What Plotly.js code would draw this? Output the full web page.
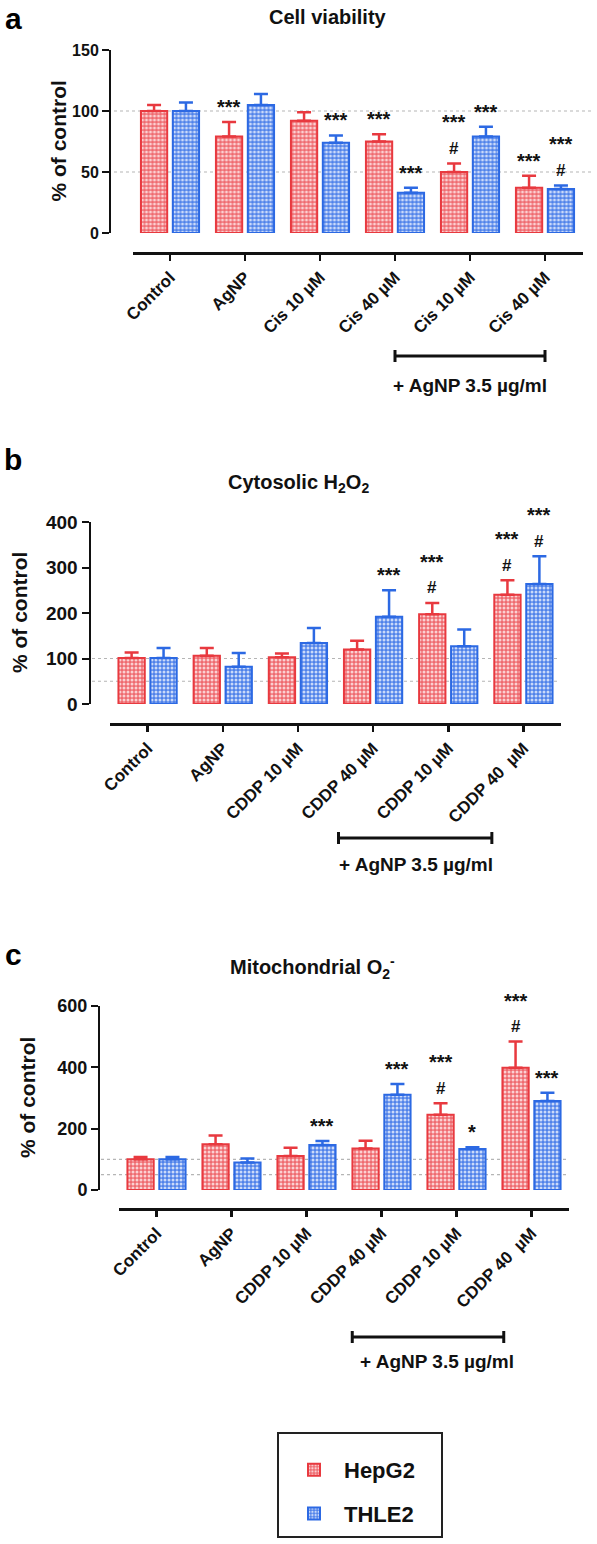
<!DOCTYPE html>
<html>
<head>
<meta charset="utf-8">
<script src="https://cdn.plot.ly/plotly-3.0.1.min.js"></script>
<style>html,body{margin:0;padding:0;background:#fff;}#chart{width:597px;height:1544px;}</style>
</head>
<body>
<div id="chart"></div>
<script>
// ---------- DATA ----------
const catsA = ['Control', 'AgNP', 'Cis 10 µM', 'Cis 40 µM', 'Cis 10 µM', 'Cis 40 µM'];
const catsBC = ['Control', 'AgNP', 'CDDP 10 µM', 'CDDP 40 µM', 'CDDP 10 µM', 'CDDP 40  µM'];
const seriesNames = ['HepG2', 'THLE2'];

// Panel a: Cell viability (% of control)
const hepA = [100, 79, 92, 75, 50, 37];
const hepAerr = [5, 12, 7, 6, 7, 10];
const thleA = [100, 105, 74, 33, 79, 36];
const thleAerr = [7, 9, 6, 4, 8, 3];
const hepAstar = ['', '***', '', '***', '***', '***'];
const hepAhash = ['', '', '', '', '#', ''];
const thleAstar = ['', '', '***', '***', '***', '***'];
const thleAhash = ['', '', '', '', '', '#'];

// Panel b: Cytosolic H2O2
const hepB = [101, 106, 103, 120, 197, 240];
const hepBerr = [12, 17, 8, 19, 25, 32];
const thleB = [101, 82, 134, 192, 127, 264];
const thleBerr = [22, 30, 33, 58, 37, 61];
const hepBstar = ['', '', '', '', '***', '***'];
const hepBhash = ['', '', '', '', '#', '#'];
const thleBstar = ['', '', '', '***', '', '***'];
const thleBhash = ['', '', '', '', '', '#'];

// Panel c: Mitochondrial O2-
const hepC = [100, 149, 111, 135, 245, 399];
const hepCerr = [8, 29, 27, 26, 38, 85];
const thleC = [100, 90, 147, 311, 134, 290];
const thleCerr = [8, 13, 13, 35, 5, 27];
const hepCstar = ['', '', '', '', '***', '***'];
const hepChash = ['', '', '', '', '#', '#'];
const thleCstar = ['', '', '***', '***', '*', '***'];
const thleChash = ['', '', '', '', '', ''];

const yTicksA = [0, 50, 100, 150];
const yTicksB = [0, 100, 200, 300, 400];
const yTicksC = [0, 200, 400, 600];
const refLines = [50, 100];

// ---------- STYLE / GEOMETRY ----------
const W = 597, H = 1544;
const px = v => v / W;
const py = v => 1 - v / H;
const FONT = 'Liberation Sans, Arial, Helvetica, sans-serif';
const RED = '#e8393f', BLUE = '#2c69e3';
const RED_BG = '#ef6a6f', RED_FG = '#fbd0d2';
const BLUE_BG = '#4f82ea', BLUE_FG = '#cbdaf9';
const BAR_W = 0.35, BAR_GAP = 0.075;
const offs = [-(BAR_W + BAR_GAP / 2), BAR_GAP / 2];

const panels = [
  {key: '', cats: catsA, ser: [[hepA, hepAerr, hepAstar, hepAhash], [thleA, thleAerr, thleAstar, thleAhash]],
   yTicks: yTicksA, ymax: 150, yAxisX: 110, yTop: 50, yBot: 233, xAxisY: 253, xL: 132.5, xR: 582.5,
   refX0: 114, refX1: 594, title: '<b>Cell viability</b>', titleX: 328, titleY: 17, letter: 'a', letterY: 0,
   yTitleX: 58, br: [3, 5], brY: 356, brTextX: 4, brTextY: 385, tickSize: 16},
  {key: '2', cats: catsBC, ser: [[hepB, hepBerr, hepBstar, hepBhash], [thleB, thleBerr, thleBstar, thleBhash]],
   yTicks: yTicksB, ymax: 400, yAxisX: 89.5, yTop: 522, yBot: 704, xAxisY: 724, xL: 110, xR: 561,
   refX0: 92, refX1: 560, title: '<b>Cytosolic H<sub>2</sub>O<sub>2</sub></b>', titleX: 298, titleY: 483, letter: 'b', letterY: 441,
   yTitleX: 19, br: [2.54, 4.58], brY: 838, brTextX: 3.57, brTextY: 864, tickSize: 19},
  {key: '3', cats: catsBC, ser: [[hepC, hepCerr, hepCstar, hepChash], [thleC, thleCerr, thleCstar, thleChash]],
   yTicks: yTicksC, ymax: 600, yAxisX: 99, yTop: 1006, yBot: 1190, xAxisY: 1209, xL: 119, xR: 569,
   refX0: 101, refX1: 567, title: '<b>Mitochondrial O<sub>2</sub><sup>-</sup></b>', titleX: 312, titleY: 967, letter: 'c', letterY: 936,
   yTitleX: 27, br: [2.61, 4.63], brY: 1337, brTextX: 3.74, brTextY: 1361, tickSize: 18}
];

const traces = [];
const annotations = [];
const shapes = [];
const layout = {
  width: W, height: H, margin: {l: 0, r: 0, t: 0, b: 0}, autosize: false,
  paper_bgcolor: '#fff', plot_bgcolor: 'rgba(0,0,0,0)',
  font: {family: FONT, color: '#111'},
  barmode: 'overlay', showlegend: true,
  legend: {x: px(284), y: py(1449), xanchor: 'left', yanchor: 'top', bgcolor: 'rgba(0,0,0,0)',
           borderwidth: 0, font: {family: FONT, size: 22, weight: 'bold', color: '#111'},
           tracegroupgap: 12, traceorder: 'grouped', itemwidth: 50},
  annotations: annotations, shapes: shapes
};

// legend frame
shapes.push({type: 'rect', xref: 'paper', yref: 'paper', x0: px(278), x1: px(442), y0: py(1433), y1: py(1537),
  line: {color: '#222', width: 2}, fillcolor: 'rgba(0,0,0,0)'});

panels.forEach((p, pi) => {
  const xa = 'x' + p.key, ya = 'y' + p.key;
  const xName = 'xaxis' + p.key, yName = 'yaxis' + p.key;
  const idx = p.cats.map((_, i) => i);
  layout[xName] = {
    domain: [px(p.xL), px(p.xR)], anchor: 'free', position: py(p.xAxisY),
    range: [-0.5, 5.5], tickmode: 'array', tickvals: idx, ticktext: p.cats, tickangle: -45,
    ticks: 'outside', ticklen: 6, tickwidth: 2.5, tickcolor: '#111',
    showline: true, linewidth: 2.8, linecolor: '#111', showgrid: false, zeroline: false,
    tickfont: {family: FONT, size: 17, weight: 'bold', color: '#111'}, fixedrange: true
  };
  layout[yName] = {
    domain: [py(p.yBot), py(p.yTop)], anchor: 'free', position: px(p.yAxisX),
    range: [0, p.ymax], tickmode: 'array', tickvals: p.yTicks,
    ticks: 'outside', ticklen: 7, tickwidth: 2, tickcolor: '#111',
    showline: true, linewidth: 2.2, linecolor: '#111', showgrid: false, zeroline: false,
    tickfont: {family: FONT, size: p.tickSize, weight: 'bold', color: '#111'}, fixedrange: true
  };

  p.ser.forEach((s, si) => {
    const [vals, errs, stars, hashes] = s;
    const col = si === 0 ? RED : BLUE;
    traces.push({
      type: 'bar', name: seriesNames[si], x: idx, y: vals, xaxis: xa, yaxis: ya,
      width: BAR_W, offset: offs[si], legendgroup: seriesNames[si], showlegend: pi === 0,
      marker: {color: si === 0 ? RED_BG : BLUE_BG,
               line: {color: col, width: 2},
               pattern: {shape: '.', size: 4, solidity: 0.45,
                         fgcolor: si === 0 ? RED_FG : BLUE_FG, bgcolor: si === 0 ? RED_BG : BLUE_BG, fillmode: 'replace'}},
      error_y: {type: 'data', symmetric: false, array: errs, arrayminus: errs.map(() => 0),
                color: col, thickness: 2.5, width: 7},
      hoverinfo: 'skip'
    });
    // significance marks
    idx.forEach(i => {
      const xc = i + offs[si] + BAR_W / 2;
      const top = vals[i] + errs[i];
      let shift = 0;
      if (hashes[i]) {
        annotations.push({xref: xa, yref: ya, x: xc, y: top, text: '<b>' + hashes[i] + '</b>', showarrow: false,
          yanchor: 'middle', xanchor: 'center', yshift: 15, font: {family: FONT, size: 17, color: '#111'}});
        shift = 26;
      }
      if (stars[i]) {
        annotations.push({xref: xa, yref: ya, x: xc, y: top, text: '<b>' + stars[i] + '</b>', showarrow: false,
          yanchor: 'middle', xanchor: 'center', yshift: 15 + shift, font: {family: FONT, size: 20, color: '#111'}});
      }
    });
  });

  // dotted reference lines
  refLines.forEach(v => {
    shapes.push({type: 'line', xref: 'paper', yref: ya, x0: px(p.refX0), x1: px(p.refX1), y0: v, y1: v,
      line: {color: '#b5b5b5', width: 1.2, dash: 'dot'}, layer: 'below'});
  });

  // bracket "+ AgNP"
  shapes.push({type: 'line', xref: xa, yref: 'paper', x0: p.br[0], x1: p.br[1], y0: py(p.brY), y1: py(p.brY),
    line: {color: '#111', width: 3}});
  p.br.forEach(b => shapes.push({type: 'line', xref: xa, yref: 'paper', x0: b, x1: b, y0: py(p.brY - 6), y1: py(p.brY + 6),
    line: {color: '#111', width: 3}}));
  annotations.push({xref: xa, yref: 'paper', x: p.brTextX, y: py(p.brTextY), text: '<b>+ AgNP 3.5 µg/ml</b>',
    showarrow: false, xanchor: 'center', yanchor: 'middle', font: {family: FONT, size: 19, color: '#111'}});

  // titles
  annotations.push({xref: 'paper', yref: 'paper', x: px(p.titleX), y: py(p.titleY), text: p.title, showarrow: false,
    xanchor: 'center', yanchor: 'middle', font: {family: FONT, size: 20, color: '#111'}});
  annotations.push({xref: 'paper', yref: 'paper', x: px(13), y: py(p.letterY), text: '<b>' + p.letter + '</b>', showarrow: false,
    xanchor: 'center', yanchor: 'top', font: {family: FONT, size: 30, color: '#000'}});
  annotations.push({xref: 'paper', yref: 'paper', x: px(p.yTitleX), y: py((p.yTop + p.yBot) / 2), text: '<b>% of control</b>',
    showarrow: false, textangle: -90, xanchor: 'center', yanchor: 'middle', font: {family: FONT, size: 21, color: '#111'}});
});

Plotly.newPlot('chart', traces, layout, {staticPlot: true, displayModeBar: false});
</script>
</body>
</html>
